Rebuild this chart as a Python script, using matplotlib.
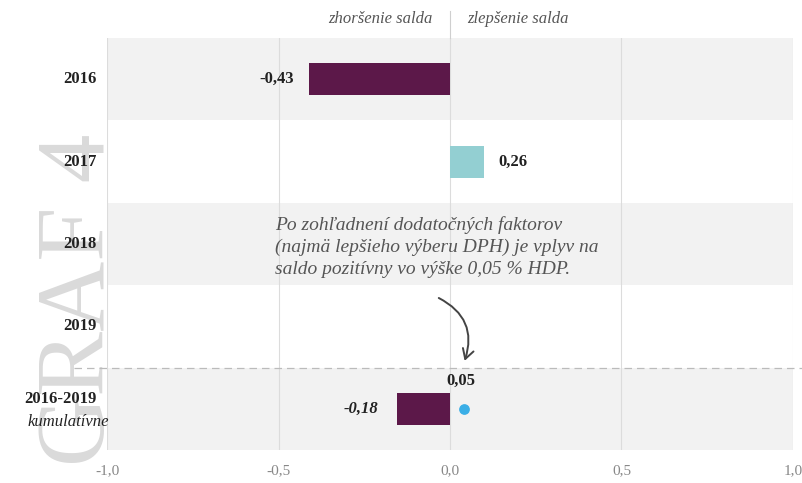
import matplotlib.pyplot as plt
from matplotlib.patches import FancyArrowPatch
import matplotlib.transforms as mtransforms

# rows (top to bottom)
rows = ["2016", "2017", "2018", "2019", "2016-2019"]
bar_vals = [-0.41, 0.10, 0.0, 0.0, -0.155]
bar_labels = ["-0,43", "0,26", "", "", "-0,18"]
bar_colors = ["#5c1849", "#93cfd2", "#93cfd2", "#93cfd2", "#5c1849"]
dot_val = 0.04
dot_label = "0,05"
xticks = [-1.0, -0.5, 0.0, 0.5, 1.0]
xtick_labels = ["-1,0", "-0,5", "0,0", "0,5", "1,0"]
note = ("Po zohľadnení dodatočných faktorov\n"
        "(najmä lepšieho výberu DPH) je vplyv na\n"
        "saldo pozitívny vo výške 0,05 % HDP.")

serif = ["Liberation Serif", "DejaVu Serif"]
plt.rcParams['font.family'] = serif

fig = plt.figure(figsize=(8.03, 4.83), dpi=100)
ax = fig.add_axes([0.1333, 0.0683, 0.8542, 0.853])
ax.patch.set_visible(False)

y = list(range(len(rows)))
ax.set_ylim(4.5, -0.5)
ax.set_xlim(-1.0, 1.0)

# alternating bands
for i in y:
    if i % 2 == 0:
        ax.axhspan(i - 0.5, i + 0.5, color="#f2f2f2", zorder=0, lw=0)

# vertical grid
for t in xticks:
    ax.axvline(t, color="#dcdcdc", lw=0.8, zorder=1)

# zero line reaching up into the header
trans = mtransforms.blended_transform_factory(ax.transData, ax.transAxes)
ax.plot([0, 0], [1.0, 1.065], transform=trans, color="#cfcfcf", lw=0.8, clip_on=False)

ax.barh(y, bar_vals, height=0.39, color=bar_colors, zorder=3)

# bar labels
ax.text(-0.455, 0, bar_labels[0], ha="right", va="center", fontsize=12,
        fontweight="bold", color="#222222")
ax.text(0.14, 1, bar_labels[1], ha="left", va="center", fontsize=12,
        fontweight="bold", color="#222222")
ax.text(-0.21, 4, bar_labels[4], ha="right", va="center", fontsize=12,
        fontweight="bold", style="italic", color="#222222")

# dot for cumulative with extra factors
ax.scatter([dot_val], [4], s=45, color="#3aaee6", zorder=4)
ax.text(-0.01, 3.66, dot_label, ha="left", va="center", fontsize=12,
        fontweight="bold", color="#222222")

# dashed separator
ax.plot([-1.095, 1.04], [3.5, 3.5], ls=(0, (6, 4)), color="#bbbbbb", lw=0.9,
        clip_on=False, zorder=2)

# header
ax.text(-0.05, 1.045, "zhoršenie salda", transform=trans, ha="right", va="center",
        fontsize=12, style="italic", color="#555555")
ax.text(0.05, 1.045, "zlepšenie salda", transform=trans, ha="left", va="center",
        fontsize=12, style="italic", color="#555555")

# annotation
ax.text(-0.51, 2.04, note, ha="left", va="center", fontsize=14, style="italic",
        color="#555555", linespacing=1.35, zorder=5)
arrow = FancyArrowPatch((-0.04, 2.64), (0.04, 3.45), connectionstyle="arc3,rad=-0.45",
                        arrowstyle="->,head_length=7,head_width=4", color="#444444",
                        lw=1.4, zorder=5)
ax.add_patch(arrow)

# y labels
ax.set_yticks(y)
ax.set_yticklabels(["", "", "", "", ""])
for i, r in enumerate(rows[:4]):
    ax.text(-1.03, i, r, ha="right", va="center", fontsize=12, fontweight="bold",
            color="#222222")
ax.text(-1.03, 3.88, rows[4], ha="right", va="center", fontsize=12,
        fontweight="bold", color="#222222")
ax.text(-0.995, 4.16, "kumulatívne", ha="right", va="center", fontsize=12,
        style="italic", color="#222222")

ax.set_xticks(xticks)
ax.set_xticklabels(xtick_labels, color="#888888", fontsize=11)
ax.tick_params(axis="both", length=0)
ax.tick_params(axis="x", pad=10)
for s in ax.spines.values():
    s.set_visible(False)

# watermark, drawn behind the axes
fig.text(0.1, 0.38, "GRAF 4", rotation=90, ha="center", va="center",
         fontsize=70, color="#dadada", family=serif, zorder=-1)

fig.savefig("out.png", dpi=100)
